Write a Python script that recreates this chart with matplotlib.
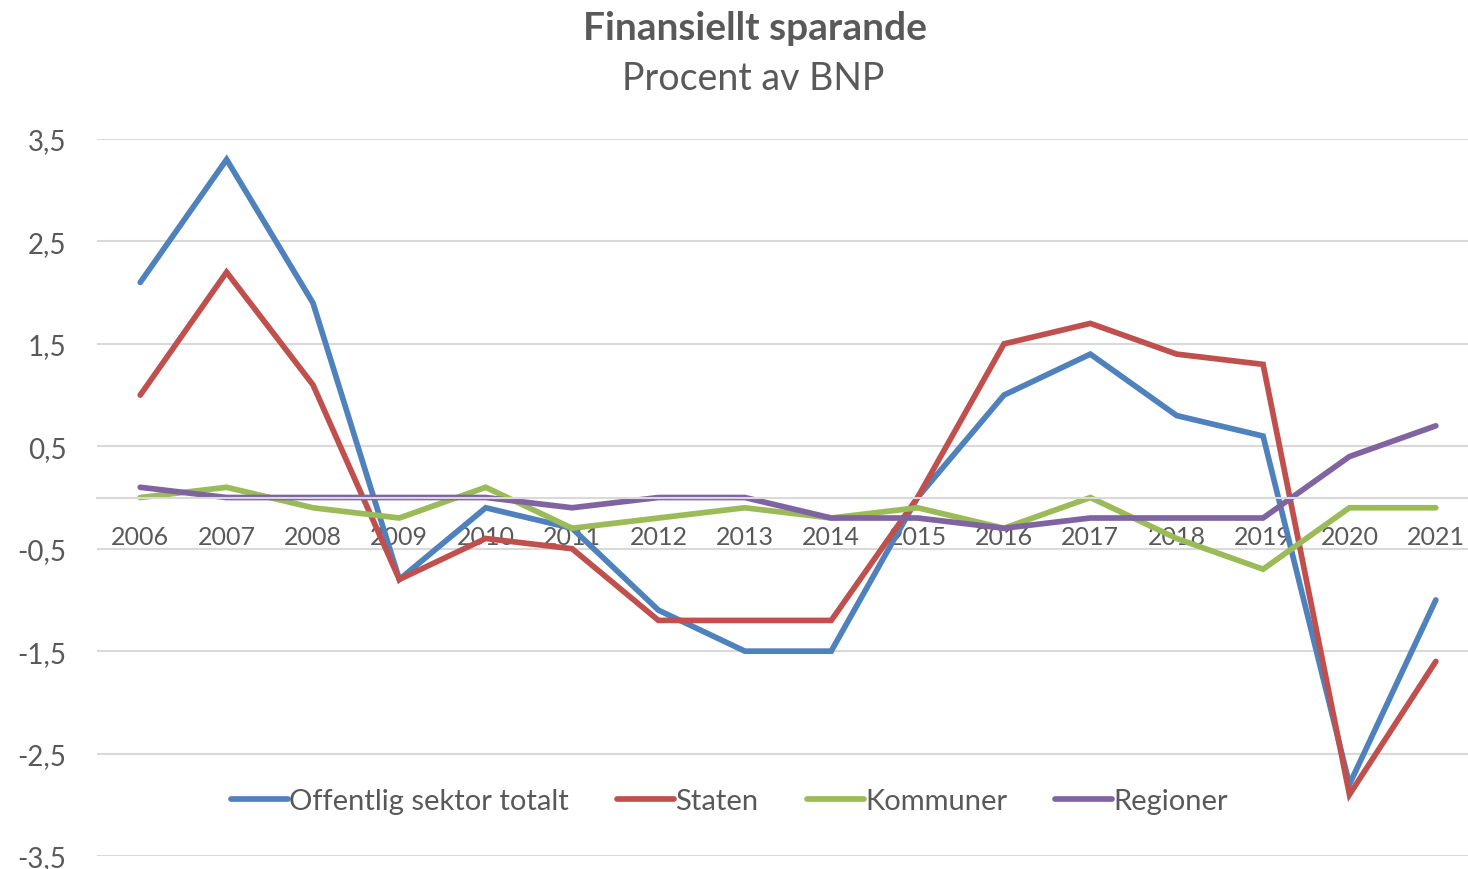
import matplotlib.pyplot as plt

years = ['2006', '2007', '2008', '2009', '2010', '2011', '2012', '2013',
         '2014', '2015', '2016', '2017', '2018', '2019', '2020', '2021']

offentlig = [2.1, 3.3, 1.9, -0.8, -0.1, -0.3, -1.1, -1.5,
             -1.5, 0.0, 1.0, 1.4, 0.8, 0.6, -2.8, -1.0]
staten = [1.0, 2.2, 1.1, -0.8, -0.4, -0.5, -1.2, -1.2,
          -1.2, 0.0, 1.5, 1.7, 1.4, 1.3, -2.9, -1.6]
kommuner = [0.0, 0.1, -0.1, -0.2, 0.1, -0.3, -0.2, -0.1,
            -0.2, -0.1, -0.3, 0.0, -0.4, -0.7, -0.1, -0.1]
regioner = [0.1, 0.0, 0.0, 0.0, 0.0, -0.1, 0.0, 0.0,
            -0.2, -0.2, -0.3, -0.2, -0.2, -0.2, 0.4, 0.7]

y_ticks = [-3.5, -2.5, -1.5, -0.5, 0.5, 1.5, 2.5, 3.5]

plt.rcParams['font.family'] = ['Lato', 'DejaVu Sans']
txt = '#595959'
grid = '#D9D9D9'

fig = plt.figure(figsize=(14.68, 8.70), dpi=100)
ax = fig.add_axes([0.0661, 0.01494, 0.9414, 0.8241])

x = list(range(len(years)))
series = [
    ('Offentlig sektor totalt', offentlig, '#4F81BD'),
    ('Staten', staten, '#C0504D'),
    ('Kommuner', kommuner, '#9BBB59'),
    ('Regioner', regioner, '#8064A2'),
]
for name, vals, col in series:
    ax.plot(x, vals, color=col, lw=4.1, label=name,
            solid_capstyle='round', solid_joinstyle='miter')

ax.set_xlim(-0.5, 15.5)
ax.set_ylim(-3.5, 3.5)
ax.set_yticks(y_ticks)
ax.set_yticklabels([f'{v:.1f}'.replace('.', ',') for v in y_ticks])
ax.set_xticks(x)
ax.set_xticklabels(years)
ax.yaxis.grid(True, color=grid, lw=1.5)
ax.set_axisbelow('line')

for s in ['top', 'right', 'left']:
    ax.spines[s].set_visible(False)
ax.spines['bottom'].set_position(('data', 0))
ax.spines['bottom'].set_color(grid)
ax.spines['bottom'].set_linewidth(1.5)

ax.tick_params(axis='x', length=0, pad=19.5, labelsize=18, colors=txt)
ax.tick_params(axis='y', length=0, pad=22, labelsize=20, colors=txt)

fig.text(0.514, 0.967, 'Finansiellt sparande', ha='center', va='center',
         fontsize=28, fontweight='bold', color=txt)
fig.text(0.513, 0.909, 'Procent av BNP', ha='center', va='center',
         fontsize=27, color=txt)

leg = fig.legend(loc='center', bbox_to_anchor=(0.497, 0.078), ncol=4,
                 frameon=False, fontsize=21, handlelength=1.95,
                 handletextpad=0.05, columnspacing=1.65, labelcolor=txt)

fig.savefig('out.png', dpi=100)
